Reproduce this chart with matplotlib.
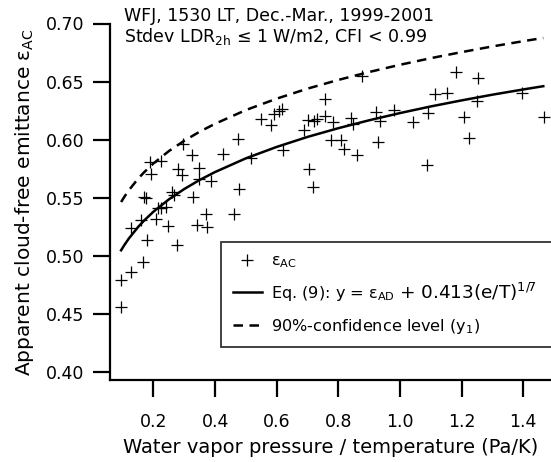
import matplotlib
matplotlib.use("Agg")
import matplotlib.pyplot as plt

plt.rcParams['font.family'] = ['DejaVu Sans']
plt.rcParams['mathtext.fontset'] = 'custom'
plt.rcParams['mathtext.rm'] = 'DejaVu Sans'
plt.rcParams['mathtext.it'] = 'DejaVu Sans:italic'
plt.rcParams['mathtext.bf'] = 'DejaVu Sans:bold'

# Observed apparent cloud-free emittance (e/T in Pa/K, eps_AC)
obs_x = [0.0935, 0.0935, 0.126, 0.1669, 0.126, 0.161, 0.2081, 0.1779, 0.248, 0.2753,
         0.2156, 0.2244, 0.2422, 0.1701, 0.1756, 0.2591, 0.2666, 0.3299, 0.3705, 0.3429,
         0.3727, 0.1903, 0.2244, 0.1935, 0.2805, 0.2935, 0.3477, 0.3468, 0.3867, 0.3266,
         0.2968, 0.4256, 0.4734, 0.4786, 0.4623, 0.5166, 0.549, 0.5815, 0.5912, 0.6075,
         0.6162, 0.6205, 0.6893, 0.7026, 0.7195, 0.7308, 0.7055, 0.7188, 0.7552, 0.7552,
         0.7818, 0.7763, 0.8071, 0.8185, 0.8597, 0.8412, 0.8487, 0.8753, 0.9218, 0.9354,
         0.9299, 0.9799, 1.0416, 1.0864, 1.0922, 1.1127, 1.1536, 1.1805, 1.2529, 1.2081,
         1.2253, 1.2503, 1.3971, 1.4669]
obs_y = [0.4563, 0.4797, 0.4861, 0.4946, 0.5242, 0.5309, 0.5315, 0.5139, 0.5263, 0.5096,
         0.5410, 0.5418, 0.5423, 0.5511, 0.5504, 0.5554, 0.5524, 0.5509, 0.5363, 0.5266,
         0.5253, 0.5811, 0.5817, 0.5709, 0.5750, 0.5699, 0.5761, 0.5664, 0.5645, 0.5866,
         0.5963, 0.5879, 0.6006, 0.5574, 0.5359, 0.5844, 0.6178, 0.6127, 0.6219, 0.6249,
         0.6269, 0.5911, 0.6081, 0.6167, 0.6165, 0.6181, 0.5750, 0.5596, 0.6353, 0.6206,
         0.6155, 0.5997, 0.5997, 0.5920, 0.5866, 0.6184, 0.6135, 0.6551, 0.6236, 0.6164,
         0.5983, 0.6256, 0.6150, 0.5780, 0.6227, 0.6393, 0.6402, 0.6583, 0.6528, 0.6198,
         0.6019, 0.6330, 0.6399, 0.6193]

# Eq. (9) fit curve and 90%-confidence level
curve_x = [0.095, 0.105, 0.12, 0.15, 0.17, 0.2, 0.25, 0.3, 0.35, 0.4, 0.5, 0.6, 0.7,
           0.8, 0.9, 1.0, 1.1, 1.2, 1.3, 1.4, 1.465]
fit_y = [0.5050, 0.5093, 0.5151, 0.5250, 0.5307, 0.5382, 0.5488, 0.5577, 0.5655, 0.5723,
         0.5841, 0.5939, 0.6025, 0.6100, 0.6168, 0.6230, 0.6287, 0.6339, 0.6388, 0.6433,
         0.6461]
conf_y = [0.5465, 0.5508, 0.5566, 0.5665, 0.5722, 0.5797, 0.5903, 0.5992, 0.6070, 0.6138,
          0.6256, 0.6354, 0.6440, 0.6515, 0.6583, 0.6645, 0.6702, 0.6754, 0.6803, 0.6848,
          0.6876]

x_ticks = [0.2, 0.4, 0.6, 0.8, 1.0, 1.2, 1.4]
y_ticks = [0.40, 0.45, 0.50, 0.55, 0.60, 0.65, 0.70]

fig = plt.figure(figsize=(5.51, 4.62), dpi=100)
ax = fig.add_axes([110/551, (462-380)/462, 441/551, (380-23.5)/462])

ax.plot(obs_x, obs_y, linestyle='none', marker='+', color='black',
        markersize=8, markeredgewidth=0.9, label=r'ε$_{\rm AC}$')
ax.plot(curve_x, fit_y, color='black', linewidth=1.8,
        label=r'Eq. (9): y = ε$_{\rm AD}$')
ax.plot(curve_x, conf_y, color='black', linewidth=1.8, linestyle=(0, (3.8, 2.6)),
        label=r'90%-confidence level (y$_{\rm 1}$)')

ax.set_xlim(0.059, 1.49)
ax.set_ylim(0.3935, 0.70)
ax.set_xticks(x_ticks)
ax.set_xticklabels([f'{v:.1f}' for v in x_ticks])
ax.set_yticks(y_ticks)
ax.set_yticklabels([f'{v:.2f}' for v in y_ticks])

for s in ['top', 'right']:
    ax.spines[s].set_visible(False)
for s in ['left', 'bottom']:
    ax.spines[s].set_linewidth(1.6)

ax.tick_params(axis='x', direction='out', length=12.5, width=1.6, pad=11, labelsize=12.5)
ax.tick_params(axis='y', direction='out', length=12, width=1.6, pad=6.5, labelsize=12.5)

ax.set_xlabel('Water vapor pressure / temperature (Pa/K)', fontsize=14, labelpad=5)
ax.set_ylabel(r'Apparent cloud-free emittance ε$_{\rm AC}$', fontsize=14.5, labelpad=7)

ax.text(0.032, 1.007, 'WFJ, 1530 LT, Dec.-Mar., 1999-2001', transform=ax.transAxes,
        fontsize=12.5, va='baseline', ha='left')
ax.text(0.032, 0.949, r'Stdev LDR$_{\rm 2h}$ ≤ 1 W/m2, CFI < 0.99', transform=ax.transAxes,
        fontsize=12.5, va='baseline', ha='left')

leg = ax.legend(loc='upper left',
                bbox_to_anchor=(111/441, 1 - (242-23.5)/356.5, 0.8, 0.0),
                mode='expand', frameon=True, fontsize=11.6, handlelength=1.8,
                handletextpad=0.6, borderpad=0.72, labelspacing=0.85,
                borderaxespad=0, fancybox=False)
leg.get_frame().set_edgecolor('black')
leg.get_frame().set_linewidth(1.3)
leg.set_clip_on(False)

eq_text = leg.get_texts()[1]
ax.annotate(r'+ 0.413(e/T)$^{\rm 1/7}$', xy=(1, 0), xycoords=eq_text,
            xytext=(3, 0), textcoords='offset points', va='bottom', ha='left',
            fontsize=13.3, zorder=10)

fig.canvas.draw()
fig.savefig('out.png', dpi=100)
